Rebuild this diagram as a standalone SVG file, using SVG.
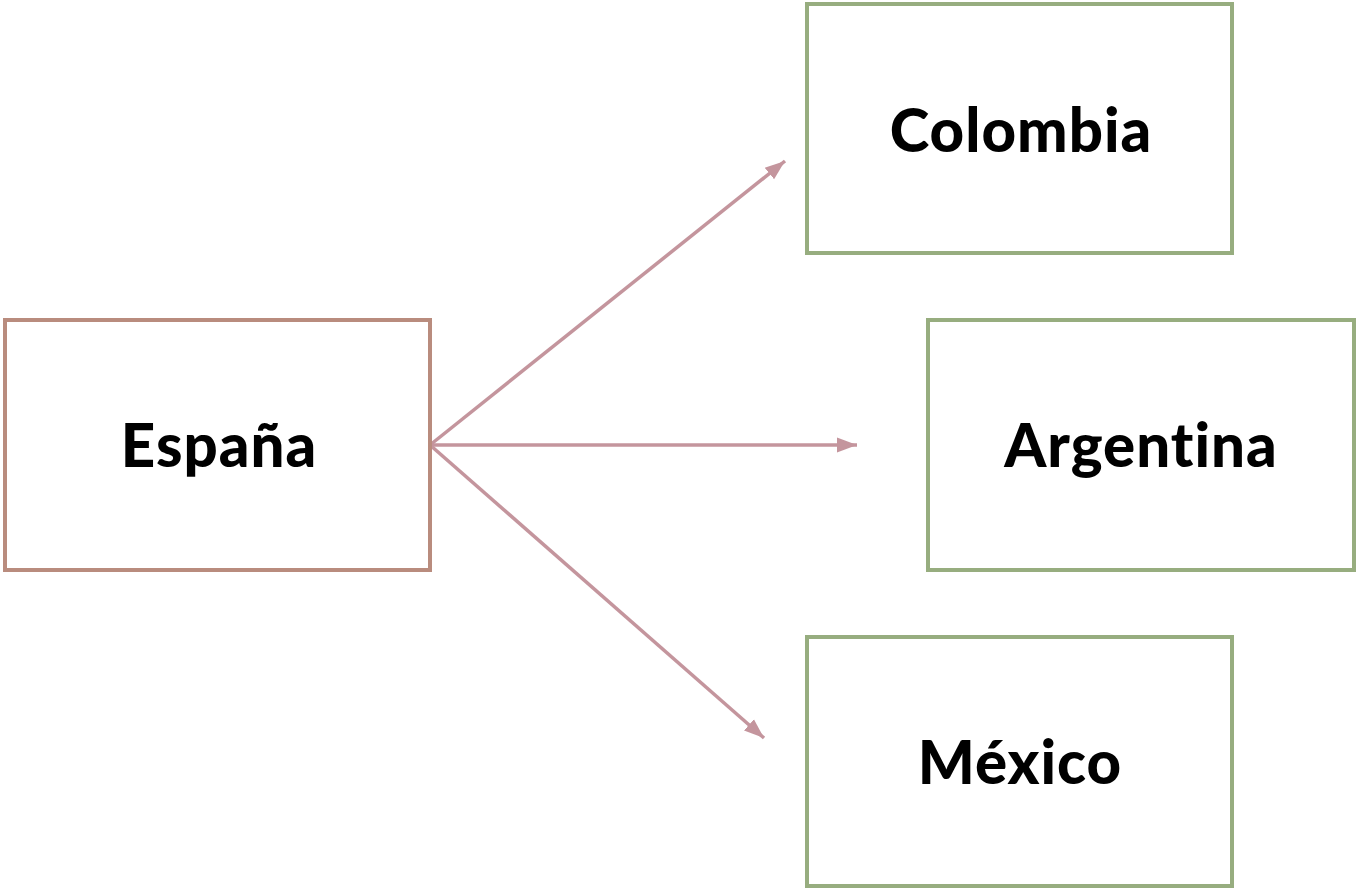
<svg xmlns="http://www.w3.org/2000/svg" width="1357" height="889" viewBox="0 0 1357 889">
<style>
.box{fill:#fff;stroke-width:4}
.src{stroke:#b98c7e}
.dst{stroke:#97ad7f}
.lbl{font-family:Lato,"Noto Sans",sans-serif;font-weight:900;font-size:60px;letter-spacing:1px;fill:#000;text-anchor:middle}
.con{stroke:#c4959d;stroke-width:3.5;fill:none}
</style>
<defs>
<marker id="ah" markerUnits="userSpaceOnUse" markerWidth="22" markerHeight="18" refX="20" refY="9" orient="auto">
<path d="M0,1.5 L20,9 L0,16.5 Z" fill="#c4959d"/>
</marker>
</defs>
<rect width="1357" height="889" fill="#fff"/>
<g id="connectors">
<line class="con" x1="430" y1="445" x2="785" y2="161" marker-end="url(#ah)"/>
<line class="con" x1="430" y1="445" x2="857" y2="445" marker-end="url(#ah)"/>
<line class="con" x1="430" y1="445" x2="764" y2="738" marker-end="url(#ah)"/>
</g>
<g id="espana">
<rect class="box src" x="5" y="320" width="425" height="250"/>
<text class="lbl" x="219" y="467">España</text>
</g>
<g id="colombia">
<rect class="box dst" x="807" y="4" width="425" height="249"/>
<text class="lbl" x="1021" y="152">Colombia</text>
</g>
<g id="argentina">
<rect class="box dst" x="928" y="320" width="426" height="250"/>
<text class="lbl" x="1141" y="467">Argentina</text>
</g>
<g id="mexico">
<rect class="box dst" x="807" y="637" width="425" height="249"/>
<text class="lbl" x="1020" y="784">México</text>
</g>
</svg>
